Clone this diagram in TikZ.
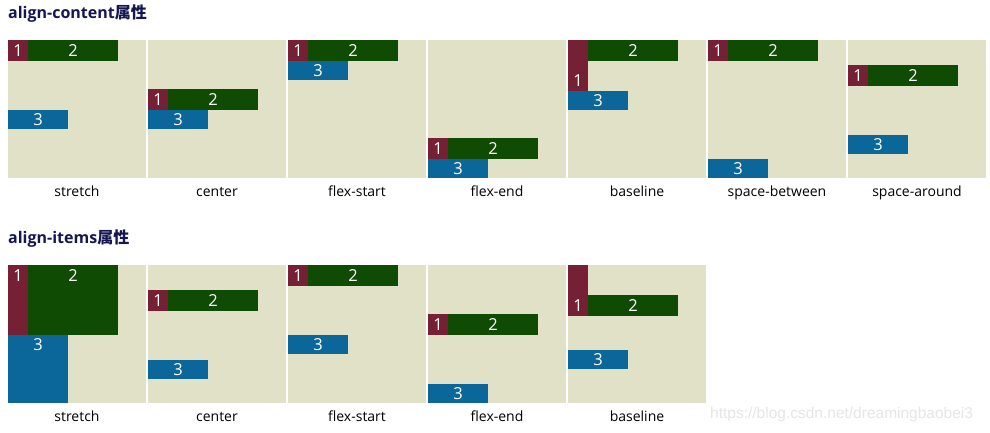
\documentclass[tikz,border=0pt]{standalone}
\usepackage{fontspec}
\setmainfont{Open Sans}
\newfontfamily\cjk{Noto Sans CJK SC}
\newfontfamily\wmfont{Liberation Sans}
\definecolor{panelbg}{RGB}{225,225,200}
\definecolor{cA}{RGB}{118,32,54}
\definecolor{cB}{RGB}{15,75,3}
\definecolor{cC}{RGB}{11,103,153}
\definecolor{titlecol}{RGB}{22,22,80}
\definecolor{wmcol}{RGB}{230,230,230}
\tikzset{
  panel/.style={fill=panelbg, draw=none, minimum width=138, minimum height=138, anchor=north west, inner sep=0, outer sep=0},
  fbox/.style={draw=none, anchor=north west, inner sep=0, outer sep=0},
  numtxt/.style={text=white, font=\fontsize{16.5}{17}\selectfont, inner sep=0},
  captxt/.style={font=\fontsize{14}{15}\selectfont, inner sep=0, text=black, anchor=base},
  ttl/.style={font=\bfseries\fontsize{16}{17}\selectfont, text=titlecol, anchor=west, inner sep=0},
}
\newcommand\fitem[8]{%
  \node[fbox, fill=#6, minimum width=#4, minimum height=#5] (#1) at ({#2},{#3}) {};
  \node[numtxt] (#1t) at ({#2+#4/2},{#8}) {#7};}
\newcommand\frow[4]{%
  \fitem{#1a}{#2}{#3}{20}{21}{cA}{1}{#3+10.5}
  \fitem{#1b}{#2+20}{#3}{90}{21}{cB}{2}{#3+10.5}
  \fitem{#1c}{#2}{#4}{60}{19}{cC}{3}{#4+9.5}}
\begin{document}
\begin{tikzpicture}[x=1pt,y=-1pt]
\useasboundingbox[fill=white] (0,0) rectangle (990,433);
% titles
\node[ttl] (t1) at (8,14) {align-content\cjk{\bfseries 属性}};
\node[ttl] (t2) at (8,239) {align-items\cjk{\bfseries 属性}};
% top panels
\foreach \i/\lab in {0/stretch,1/center,2/flex-start,3/flex-end,4/baseline,5/space-between,6/space-around}{
  \node[panel] (p\i) at ({8+140*\i},40) {};
  \node[captxt] (p\i l) at ({77+140*\i},196) {\lab};
}
% bottom panels
\foreach \i/\lab in {0/stretch,1/center,2/flex-start,3/flex-end,4/baseline}{
  \node[panel] (q\i) at ({8+140*\i},265) {};
  \node[captxt] (q\i l) at ({77+140*\i},421) {\lab};
}
% align-content items
\frow{ca}{8}{40}{110}
\frow{cb}{148}{89}{110}
\frow{cc}{288}{40}{61}
\frow{cd}{428}{138}{159}
\fitem{cea}{568}{40}{20}{51}{cA}{1}{80.5}
\fitem{ceb}{588}{40}{90}{21}{cB}{2}{50.5}
\fitem{cec}{568}{91}{60}{19}{cC}{3}{100.5}
\frow{cf}{708}{40}{159}
\frow{cg}{848}{65}{135}
% align-items items
\fitem{iaa}{8}{265}{20}{70}{cA}{1}{275.5}
\fitem{iab}{28}{265}{90}{70}{cB}{2}{275.5}
\fitem{iac}{8}{335}{60}{68}{cC}{3}{344.5}
\frow{ib}{148}{290}{360}
\frow{ic}{288}{265}{335}
\frow{id}{428}{314}{384}
\fitem{iea}{568}{265}{20}{51}{cA}{1}{305.5}
\fitem{ieb}{588}{295}{90}{21}{cB}{2}{305.5}
\fitem{iec}{568}{350}{60}{19}{cC}{3}{359.5}
% watermark
\node[font=\wmfont\fontsize{15.5}{16}\selectfont, text=wmcol, anchor=west, inner sep=0] (wm) at (710,414) {https://blog.csdn.net/dreamingbaobei3};
\end{tikzpicture}
\end{document}
